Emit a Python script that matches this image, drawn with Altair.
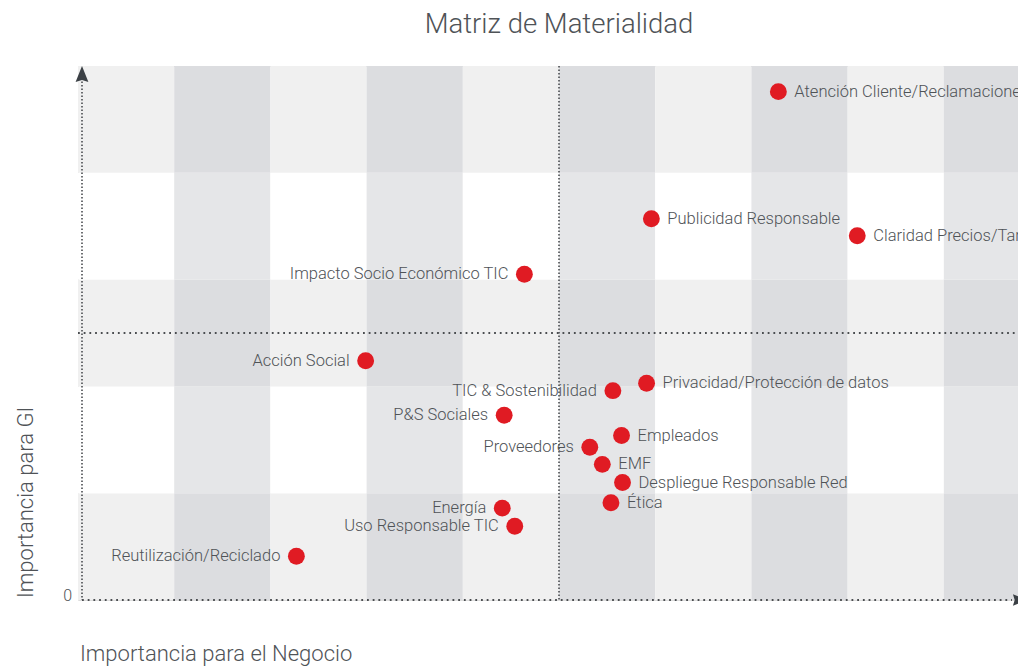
import altair as alt
import pandas as pd

# ---- data ----
labels = [
    "Atención Cliente/Reclamaciones", "Publicidad Responsable", "Claridad Precios/Tarifas",
    "Impacto Socio Económico TIC", "Acción Social", "P&S Sociales", "Energía",
    "Uso Responsable TIC", "Reutilización/Reciclado", "TIC & Sostenibilidad",
    "Privacidad/Protección de datos", "Empleados", "Proveedores", "EMF",
    "Despliegue Responsable Red", "Ética",
]
negocio = [7.28, 5.96, 8.10, 4.64, 2.99, 4.43, 4.41, 4.54, 2.27, 5.56, 5.91, 5.65, 5.32, 5.45, 5.66, 5.54]
gi = [4.76, 3.57, 3.41, 3.05, 2.24, 1.73, 0.86, 0.69, 0.41, 1.96, 2.03, 1.54, 1.43, 1.27, 1.10, 0.91]
side = ["right", "right", "right", "left", "left", "left", "left", "left", "left", "left",
        "right", "right", "left", "right", "right", "right"]

col_edges = list(range(0, 11))   # 10 vertical bands
row_edges = list(range(0, 6))    # 5 horizontal bands
x_domain = [0, 9.771]
y_domain = [0, 5]
mid_x = [5]
mid_y = [2.5]

W, H = 940, 534
TEXT = "#4f5357"
FONT = "Roboto"

pts = pd.DataFrame({"label": labels, "x": negocio, "y": gi, "side": side})

cells = []
for c in range(10):
    for r in range(5):
        light_row = (r % 2 == 0)
        dark_col = (c % 2 == 1)
        kind = ("ld" if dark_col else "ll") if light_row else ("wd" if dark_col else "ww")
        cells.append({"x": col_edges[c], "x2": col_edges[c + 1],
                      "y": row_edges[r], "y2": row_edges[r + 1], "kind": kind})
cells = pd.DataFrame(cells)

xs = alt.Scale(domain=x_domain, nice=False, zero=False)
ys = alt.Scale(domain=y_domain, nice=False, zero=False)

bg = alt.Chart(cells).mark_rect(clip=True, strokeWidth=0).encode(
    x=alt.X("x:Q", scale=xs, axis=None), x2="x2:Q",
    y=alt.Y("y:Q", scale=ys, axis=None), y2="y2:Q",
    color=alt.Color("kind:N", legend=None,
                    scale=alt.Scale(domain=["ll", "ld", "ww", "wd"],
                                    range=["#f0f0f0", "#dcdde0", "#ffffff", "#e5e6e8"])),
)

one = pd.DataFrame({"v": [0]})
dot_col = "#4a4d50"

vmid = alt.Chart(pd.DataFrame({"x": mid_x})).mark_rule(
    color=dot_col, strokeWidth=1.6, strokeDash=[1.6, 1.9]).encode(
    x=alt.X("x:Q", scale=xs), y=alt.value(0), y2=alt.value(H))
hmid = alt.Chart(pd.DataFrame({"y": mid_y})).mark_rule(
    color=dot_col, strokeWidth=1.8, strokeDash=[1.8, 3.9]).encode(
    y=alt.Y("y:Q", scale=ys), x=alt.value(0), x2=alt.value(W))
yaxis = alt.Chart(one).mark_rule(
    color=dot_col, strokeWidth=1.6, strokeDash=[1.6, 1.9]).encode(
    x=alt.value(4), y=alt.value(12), y2=alt.value(H))
xaxis = alt.Chart(one).mark_rule(
    color=dot_col, strokeWidth=1.8, strokeDash=[1.8, 3.9]).encode(
    x=alt.value(4), x2=alt.value(W - 6), y=alt.value(H))

up_arrow = alt.Chart(one).mark_point(
    shape="M0,-1L0.8,1L0,0.75L-0.8,1Z", filled=True, color="#3b4045", opacity=1,
    size=256, strokeWidth=0).encode(x=alt.value(4), y=alt.value(8))
right_arrow = alt.Chart(one).mark_point(
    shape="M1,0L-1,-0.8L-0.75,0L-1,0.8Z", filled=True, color="#3b4045", opacity=1,
    size=200, strokeWidth=0).encode(x=alt.value(W + 2), y=alt.value(H))

dots = alt.Chart(pts).mark_circle(size=285, opacity=1, color="#e01b23").encode(
    x=alt.X("x:Q", scale=xs), y=alt.Y("y:Q", scale=ys))

lab_r = alt.Chart(pts).transform_filter(alt.datum.side == "right").mark_text(
    align="left", baseline="middle", dx=16, fontSize=16.5, font=FONT, fontWeight=300,
    color=TEXT).encode(x=alt.X("x:Q", scale=xs), y=alt.Y("y:Q", scale=ys), text="label:N")
lab_l = alt.Chart(pts).transform_filter(alt.datum.side == "left").mark_text(
    align="right", baseline="middle", dx=-16, fontSize=16.5, font=FONT, fontWeight=300,
    color=TEXT).encode(x=alt.X("x:Q", scale=xs), y=alt.Y("y:Q", scale=ys), text="label:N")

title = alt.Chart(one).mark_text(
    text="Matriz de Materialidad", align="center", baseline="alphabetic",
    fontSize=27.5, font=FONT, fontWeight=300, color=TEXT).encode(
    x=alt.value(481), y=alt.value(33 - 66))
xtitle = alt.Chart(one).mark_text(
    text="Importancia para el Negocio", align="left", baseline="alphabetic",
    fontSize=22, font=FONT, fontWeight=300, color=TEXT).encode(
    x=alt.value(2), y=alt.value(661 - 66))
ytitle = alt.Chart(one).mark_text(
    text="Importancia para GI", align="left", baseline="alphabetic", angle=270,
    fontSize=22, font=FONT, fontWeight=300, color=TEXT).encode(
    x=alt.value(33 - 78), y=alt.value(598 - 66))
zero = alt.Chart(one).mark_text(
    text="0", align="right", baseline="alphabetic",
    fontSize=16, font=FONT, fontWeight=300, color=TEXT).encode(
    x=alt.value(-6), y=alt.value(601 - 66))

chart = alt.layer(
    bg, hmid, vmid, yaxis, xaxis, up_arrow, right_arrow, dots, lab_r, lab_l,
    title, xtitle, ytitle, zero,
).properties(
    width=W, height=H,
    autosize=alt.AutoSizeParams(type="none"),
    padding={"left": 70, "top": 58, "right": 0, "bottom": 68},
).configure_view(stroke=None).configure(background="#ffffff")

chart.save("out.html", embed_options={"renderer": "svg", "actions": False})
